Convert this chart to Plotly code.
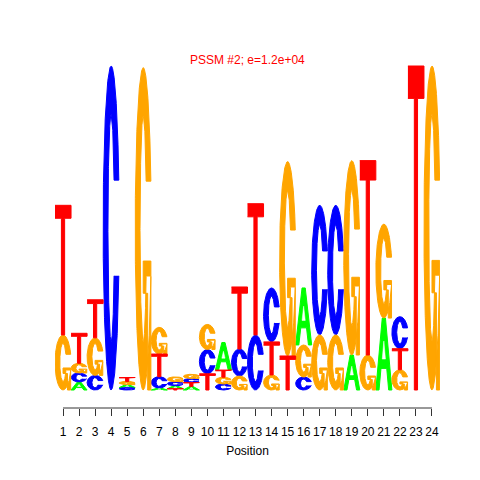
import numpy as np
import plotly.graph_objects as go

# ---- data: information content (bits) per letter at each position ----
positions = list(range(1, 25))
A_bits = [0, 0.05, 0, 0, 0.018, 0, 0.012, 0.018, 0.022, 0, 0.17, 0, 0, 0, 0, 0.352, 0, 0, 0.216, 0, 0.444, 0, 0, 0]
C_bits = [0, 0.055, 0.09, 2.0, 0.015, 0, 0.07, 0.025, 0.025, 0.15, 0.037, 0.167, 0.34, 0.333, 0, 0.08, 0.80, 0.80, 0, 0, 0, 0.198, 0, 0]
G_bits = [0.34, 0.06, 0.232, 0, 0.02, 1.99, 0.165, 0.03, 0.026, 0.155, 0.042, 0.086, 0, 0.093, 1.2, 0.198, 0.34, 0.34, 1.2, 0.216, 0.58, 0.125, 0, 2.0]
T_bits = [0.80, 0.185, 0.235, 0, 0.024, 0, 0.14, 0.008, 0.024, 0.1, 0.044, 0.383, 0.81, 0.204, 0.21, 0, 0, 0, 0, 1.2, 0, 0.13, 2.0, 0]
title_text = "PSSM #2; e=1.2e+04"
x_label = "Position"

colors = {"A": "#00FF00", "C": "#0000FF", "G": "#FFA500", "T": "#FF0000"}

# ---- unit glyph outlines ----
def glyph_A():
    outer = (np.array([0, 4, 6, 10, 8, 6.8, 3.2, 2, 0]) / 10, np.array([0, 10, 10, 0, 0, 3, 3, 0, 0]) / 10)
    hole = (np.array([4.0, 5, 6.0, 4.0]) / 10, np.array([4.3, 6.8, 4.3, 4.3]) / 10)
    return [outer], [hole]

def glyph_T():
    return [(np.array([0, 10, 10, 6, 6, 4, 4, 0]) / 10, np.array([10, 10, 9, 9, 0, 0, 9, 9]) / 10)], []

RX_IN, RY_IN = 0.2, 0.35

def c_shape():
    a1 = np.linspace(0.3 + np.pi / 2, np.pi, 100)
    a2 = np.linspace(np.pi, 1.5 * np.pi, 100)
    xl1, yl1 = 0.5 + 0.5 * np.sin(a1), 0.5 + 0.5 * np.cos(a1)
    xl2, yl2 = 0.5 + 0.5 * np.sin(a2), 0.5 + 0.5 * np.cos(a2)
    xl, yl = np.r_[xl1, xl2], np.r_[yl1, yl2]
    x = np.r_[xl, xl[::-1]]
    y = np.r_[yl, 1 - yl[::-1]]
    xi1, yi1 = 0.5 + RX_IN * np.sin(a1), 0.5 + RY_IN * np.cos(a1)
    keep = yi1 <= yl1.max()
    xi1, yi1 = xi1[keep], yi1[keep]
    yi1[0] = yl1.max()
    xi2, yi2 = 0.5 + RX_IN * np.sin(a2), 0.5 + RY_IN * np.cos(a2)
    xi, yi = np.r_[xi1, xi2], np.r_[yi1, yi2]
    x1 = np.r_[xi, xi[::-1]]
    y1 = np.r_[yi, 1 - yi[::-1]]
    return np.r_[x, x1[::-1]], np.r_[y, y1[::-1]], xl1.max()

def glyph_C():
    x, y, _ = c_shape()
    return [(x, y)], []

def glyph_G():
    x, y, r1 = c_shape()
    h1 = 0.4
    xa = np.array([r1, 0.5, 0.5, r1 - 0.2, r1 - 0.2, r1, r1])
    ya = np.array([h1, h1, h1 - 0.1, h1 - 0.1, 0, 0, h1])
    return [(x, y), (xa, ya)], []

glyphs = {"A": glyph_A(), "C": glyph_C(), "G": glyph_G(), "T": glyph_T()}
bits = {"A": A_bits, "C": C_bits, "G": G_bits, "T": T_bits}

paths = {k: ([], []) for k in "ACGT"}
holes = ([], [])
for i, pos in enumerate(positions):
    stack = sorted([(bits[L][i], L) for L in "ACGT" if bits[L][i] > 0])
    base = 0.0
    for h, L in stack:
        polys, hls = glyphs[L]
        for gx, gy in polys:
            paths[L][0].extend(list(pos - 0.5 + gx) + [None])
            paths[L][1].extend(list(base + h * gy) + [None])
        for gx, gy in hls:
            holes[0].extend(list(pos - 0.5 + gx) + [None])
            holes[1].extend(list(base + h * gy) + [None])
        base += h

fig = go.Figure()
for L in "ACGT":
    fig.add_trace(go.Scatter(x=paths[L][0], y=paths[L][1], mode="lines", fill="toself",
                             fillcolor=colors[L], line=dict(color=colors[L], width=1),
                             hoverinfo="skip", showlegend=False))
fig.add_trace(go.Scatter(x=holes[0], y=holes[1], mode="lines", fill="toself",
                         fillcolor="white", line=dict(color="white", width=0.5),
                         hoverinfo="skip", showlegend=False))

px_per_bit = 162.0
y_bottom = -(400 - 382) / px_per_bit
y_top = (382 - 40) / px_per_bit

fig.update_layout(
    width=480, height=480,
    margin=dict(l=47, r=48, t=40, b=80),
    paper_bgcolor="white", plot_bgcolor="white",
    font=dict(family="Liberation Sans, Arial, sans-serif", size=12, color="black"),
    xaxis=dict(range=[0.5, 24.5], tickvals=positions, ticktext=[str(p) for p in positions],
               ticks="outside", ticklen=7, tickcolor="#333", tickwidth=1,
               ticklabelstandoff=6,
               showline=False, showgrid=False, zeroline=False,
               tickfont=dict(size=12, color="black"),
               title=dict(text=x_label, font=dict(size=12, color="black"), standoff=8)),
    yaxis=dict(range=[y_bottom, y_top], visible=False),
    shapes=[dict(type="line", xref="x", yref="paper", x0=1, x1=24, y0=0, y1=0,
                 line=dict(color="#333", width=1))],
    annotations=[dict(text=title_text, xref="paper", yref="paper", x=0.5, y=1,
                      yshift=-12, xanchor="center", yanchor="middle", showarrow=False,
                      font=dict(size=12, color="red"))],
)

fig.write_html("out.html")
